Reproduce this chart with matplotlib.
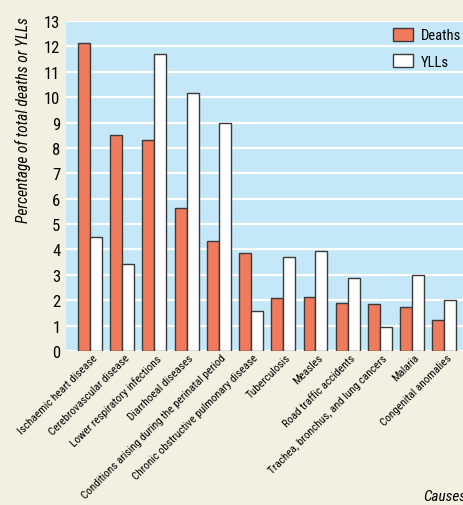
import matplotlib
matplotlib.use("Agg")
import matplotlib.pyplot as plt
from matplotlib import font_manager
import numpy as np

causes = ["Ischaemic heart disease", "Cerebrovascular disease", "Lower respiratory infections",
          "Diarrhoeal diseases", "Conditions arising during the perinatal period",
          "Chronic obstructive pulmonary disease", "Tuberculosis", "Measles",
          "Road traffic accidents", "Trachea, bronchus, and lung cancers", "Malaria",
          "Congenital anomalies"]
deaths = [12.15, 8.5, 8.33, 5.63, 4.35, 3.86, 2.09, 2.11, 1.89, 1.86, 1.72, 1.23]
ylls = [4.48, 3.42, 11.69, 10.18, 8.97, 1.58, 3.72, 3.93, 2.88, 0.93, 3.01, 2.02]
yticks = list(range(0, 14))

names = {f.name for f in font_manager.fontManager.ttflist}
fam = "Liberation Sans"
for cand in ["Liberation Sans Narrow", "Roboto Condensed", "Arial Narrow", "Liberation Sans"]:
    if cand in names:
        fam = cand
        break
plt.rcParams['font.family'] = [fam, 'DejaVu Sans']

fig = plt.figure(figsize=(4.64, 5.06), dpi=100)
fig.patch.set_facecolor("#f2f0e0")
renderer = fig.canvas.get_renderer()


def fit_size(text, target_px, base=10, **kw):
    t = fig.text(0, 0, text, fontsize=base, **kw)
    w = t.get_window_extent(renderer).width
    t.remove()
    return base * target_px / w


ax = fig.add_axes([0.1422, 0.3043, 0.8578, 0.6522])
ax.set_facecolor("#c5e8f8")

x = np.arange(len(causes))
w = 0.37
ax.bar(x - w/2, deaths, w, color="#f07a5c", edgecolor="#3a3a3a", linewidth=1.0, label="Deaths", zorder=3)
ax.bar(x + w/2, ylls, w, color="white", edgecolor="#3a3a3a", linewidth=1.0, label="YLLs", zorder=3)

ax.set_ylim(0, 13)
ax.set_xlim(-0.745, 11.61)
ax.set_yticks(yticks)
ax.set_yticklabels([str(t) for t in yticks], fontsize=12)
ax.grid(axis='y', color='white', linewidth=1.6, zorder=1)
ax.set_axisbelow(True)
for s in ax.spines.values():
    s.set_visible(False)
ax.tick_params(axis='both', length=0)
ax.tick_params(axis='y', pad=4)
ax.tick_params(axis='x', pad=1)
lab_fs = fit_size("Conditions arising during the perinatal period", 200)
ax.set_xticks(x + 0.06)
ax.set_xticklabels(causes, rotation=45, ha='right', rotation_mode='anchor', fontsize=lab_fs)

yl_fs = fit_size("Percentage of total deaths or YLLs", 206, style='italic')
fig.text(22.5 / 464, 1 - 17 / 506, "Percentage of total deaths or YLLs", rotation=90,
         fontsize=yl_fs, style='italic', ha='center', va='top')
fig.text(423 / 464, 1 - 497 / 506, "Causes", fontsize=11, style='italic', ha='left', va='center')

lg_fs = fit_size("Deaths", 40)
px = lg_fs * 100 / 72
leg = fig.legend(loc='upper left', frameon=False, fontsize=lg_fs,
                 handlelength=20.6 / px, handleheight=14.4 / px,
                 handletextpad=8 / px, labelspacing=(26 - 14.4) / px,
                 borderpad=0, borderaxespad=0,
                 bbox_to_anchor=(392.5 / 464, 1 - 29 / 506))
for h in leg.legend_handles:
    h.set_linewidth(1.0)

fig.savefig("out.png", dpi=100, facecolor=fig.get_facecolor())
